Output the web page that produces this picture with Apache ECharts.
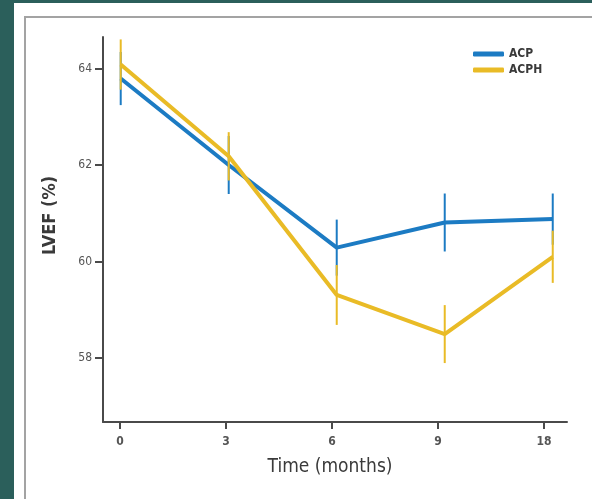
<!DOCTYPE html>
<html>
<head>
<meta charset="utf-8">
<script src="https://cdn.jsdelivr.net/npm/echarts@6/dist/echarts.min.js"></script>
<style>
html,body{margin:0;padding:0;background:#2b5f5b;}
#chart{width:592px;height:499px;}
</style>
</head>
<body>
<div id="chart"></div>
<script>
// Data
var timeLabels = ['0', '3', '6', '9', '18'];
var acpMean  = [63.79, 62.00, 60.29, 60.81, 60.88];
var acpErr   = [0.55, 0.60, 0.58, 0.60, 0.53];
var acphMean = [64.08, 62.18, 59.31, 58.50, 60.10];
var acphErr  = [0.52, 0.50, 0.62, 0.60, 0.54];
var yTicks = [58, 60, 62, 64];
var xTickIdx = [0, 1, 2, 3, 4];

var BLUE = '#1c7bc3';
var YELLOW = '#e9bb26';
var FONT = "'Liberation Sans Narrow', 'DejaVu Sans Condensed', 'Liberation Sans', Arial, sans-serif";

function pts(mean) { return mean.map(function (v, i) { return [i, v]; }); }
function errs(mean, err) { return mean.map(function (v, i) { return [i, v - err[i], v + err[i]]; }); }

function errRender(color) {
  return function (params, api) {
    var p1 = api.coord([api.value(0), api.value(1)]);
    var p2 = api.coord([api.value(0), api.value(2)]);
    return {
      type: 'line',
      shape: { x1: p1[0], y1: p1[1], x2: p2[0], y2: p2[1] },
      style: { stroke: color, lineWidth: 2 }
    };
  };
}

var chart = echarts.init(document.getElementById('chart'), null, { renderer: 'canvas' });
chart.setOption({
  backgroundColor: '#2b5f5b',
  animation: false,
  textStyle: { fontFamily: FONT },
  graphic: [
    { type: 'rect', z: -10, shape: { x: 14, y: 3, width: 600, height: 600 }, style: { fill: '#ffffff' } },
    { type: 'rect', z: -9, shape: { x: 25, y: 17, width: 600, height: 600 }, style: { fill: 'none', stroke: '#a3a3a3', lineWidth: 2 } }
  ],
  grid: { left: 103, right: 25, top: 37, bottom: 77, containLabel: false },
  legend: {
    left: 473, top: 48, orient: 'vertical', itemWidth: 31, itemHeight: 5, itemGap: 4, padding: 0,
    icon: 'roundRect',
    textStyle: { fontFamily: FONT, fontSize: 12, color: '#3a3a3a', fontWeight: 'bold' },
    data: ['ACP', 'ACPH']
  },
  xAxis: [
    {
      type: 'value', min: -0.16, max: 4.217, position: 'bottom',
      name: 'Time (months)', nameLocation: 'middle', nameGap: 36,
      nameTextStyle: { fontFamily: FONT, fontSize: 19, color: '#3a3a3a', padding: [0, 10, 0, 0] },
      splitLine: { show: false },
      axisLine: { show: true, onZero: false, lineStyle: { color: '#4a4a4a', width: 2 } },
      axisTick: { show: true, customValues: xTickIdx, length: 7, lineStyle: { color: '#4a4a4a', width: 2 } },
      axisLabel: { customValues: xTickIdx, margin: 14, fontSize: 12, color: '#555', fontWeight: 'bold',
        formatter: function (v) { return timeLabels[Math.round(v)]; } }
    },
    {
      type: 'value', min: -0.164, max: 4.132, show: false, position: 'bottom'
    }
  ],
  yAxis: {
    type: 'value', min: 56.68, max: 64.65,
    name: 'LVEF (%)', nameLocation: 'middle', nameGap: 44, nameRotate: 90,
    nameTextStyle: { fontFamily: FONT, fontSize: 18, color: '#3a3a3a', fontWeight: 'bold', padding: [0, 0, 0, 28] },
    splitLine: { show: false },
    axisLine: { show: true, onZero: false, lineStyle: { color: '#4a4a4a', width: 2 } },
    axisTick: { show: true, customValues: yTicks, length: 8, lineStyle: { color: '#4a4a4a', width: 2 } },
    axisLabel: { customValues: yTicks, margin: 11, fontSize: 12, color: '#555' }
  },
  series: [
    { name: 'ACP', type: 'line', xAxisIndex: 1, data: pts(acpMean), symbol: 'none', z: 2,
      color: BLUE, lineStyle: { color: BLUE, width: 4 } },
    { name: 'ACP err', type: 'custom', xAxisIndex: 1, data: errs(acpMean, acpErr), z: 3,
      renderItem: errRender(BLUE), encode: { x: 0, y: [1, 2] } },
    { name: 'ACPH', type: 'line', xAxisIndex: 1, data: pts(acphMean), symbol: 'none', z: 4,
      color: YELLOW, lineStyle: { color: YELLOW, width: 4 } },
    { name: 'ACPH err', type: 'custom', xAxisIndex: 1, data: errs(acphMean, acphErr), z: 5,
      renderItem: errRender(YELLOW), encode: { x: 0, y: [1, 2] } }
  ]
});
</script>
</body>
</html>
